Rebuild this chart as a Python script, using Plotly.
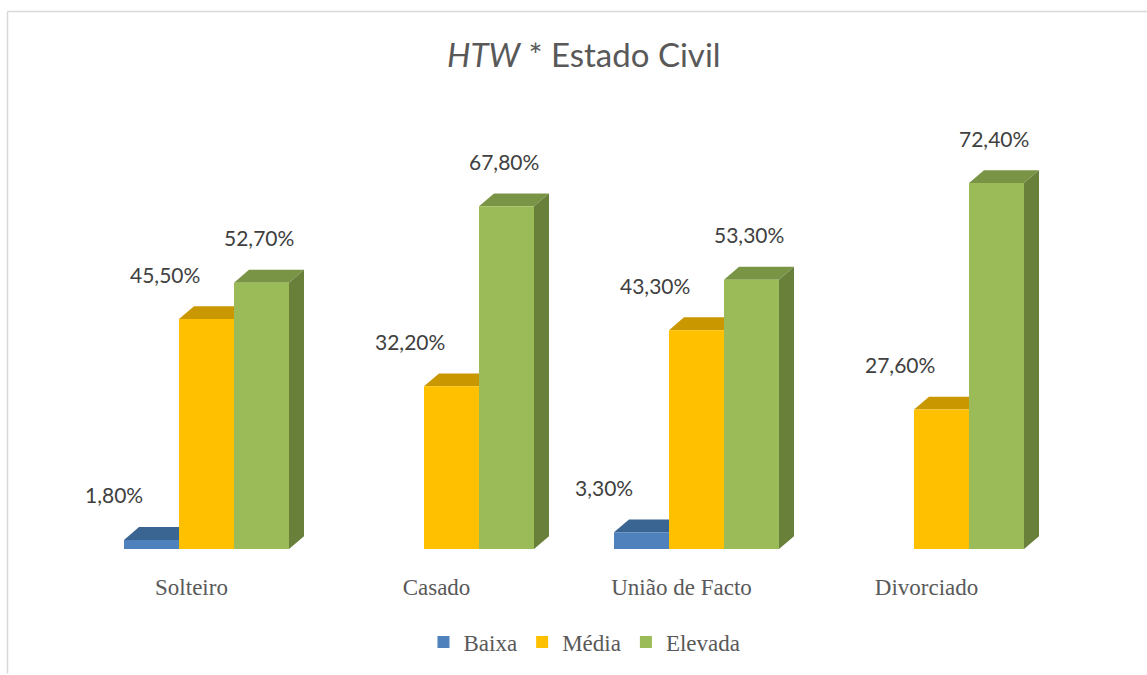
import plotly.graph_objects as go

categories = ["Solteiro", "Casado", "União de Facto", "Divorciado"]
series_names = ["Baixa", "Média", "Elevada"]
baixa = [1.8, None, 3.3, None]
media = [45.5, 32.2, 43.3, 27.6]
elevada = [52.7, 67.8, 53.3, 72.4]

# styling
front_colors = ["#4F81BD", "#FFC000", "#9BBB59"]
top_colors = ["#3A6491", "#C99700", "#7A9446"]
side_colors = ["#33577F", "#B08400", "#68803A"]
label_xshift = [-38, -42, -3]

W, H = 1147, 675
L, R, T, B = 69, 98, 101, 121
px_per_cat = (W - L - R) / 4.0
px_per_pct = 5.11
yr = (H - T - B) / px_per_pct

bar_w = 55 / px_per_cat
group_shift = 15 / px_per_cat
dx = 15 / px_per_cat
dy = 13 / px_per_pct
offsets = [group_shift - 1.5 * bar_w + k * bar_w for k in range(3)]

fig = go.Figure()
shapes = []
annotations = []
all_series = [baixa, media, elevada]
for k, (name, vals) in enumerate(zip(series_names, all_series)):
    xs = list(range(len(categories)))
    fig.add_trace(go.Bar(
        x=xs, y=[v if v is not None else 0 for v in vals], name=name,
        width=bar_w, offset=offsets[k],
        marker=dict(color=front_colors[k], line=dict(width=0)),
        hoverinfo="skip",
    ))
    for i, v in enumerate(vals):
        if v is None:
            continue
        x0 = i + offsets[k]
        x1 = x0 + bar_w
        shapes.append(dict(
            type="path", xref="x", yref="y", layer="below",
            path=f"M {x0},{v} L {x1},{v} L {x1+dx},{v+dy} L {x0+dx},{v+dy} Z",
            fillcolor=top_colors[k], line=dict(width=0)))
        shapes.append(dict(
            type="path", xref="x", yref="y", layer="below",
            path=f"M {x1},0 L {x1+dx},{dy} L {x1+dx},{v+dy} L {x1},{v} Z",
            fillcolor=side_colors[k], line=dict(width=0)))
        annotations.append(dict(
            x=x0 + bar_w / 2, y=v, xref="x", yref="y",
            text=f"{v:.2f}".replace(".", ",") + "%",
            showarrow=False, xanchor="center", yanchor="middle",
            xshift=label_xshift[k], yshift=45,
            font=dict(family="Lato", size=21, color="#404040")))

# chart border (light gray frame)
pw = W - L - R
ph = H - T - B
bx0 = (7.5 - L) / pw
by1 = 1 + (T - 10.5) / ph
shapes.append(dict(type="line", xref="paper", yref="paper", x0=bx0, x1=bx0,
                   y0=by1, y1=-(B + 5) / ph, line=dict(color="#D9D9D9", width=1.5)))
shapes.append(dict(type="line", xref="paper", yref="paper", x0=bx0, x1=(W - L + 5) / pw,
                   y0=by1, y1=by1, line=dict(color="#D9D9D9", width=1.5)))

fig.update_layout(
    width=W, height=H,
    margin=dict(l=L, r=R, t=T, b=B),
    paper_bgcolor="white", plot_bgcolor="white",
    barmode="overlay",
    title=dict(text="<i>HTW</i> * Estado Civil", x=0.509, xanchor="center",
               y=1 - 55 / H, yanchor="middle",
               font=dict(family="Lato", size=33, color="#595959")),
    xaxis=dict(range=[-0.5, 3.5], tickvals=list(range(len(categories))),
               ticktext=categories, showgrid=False, zeroline=False,
               showline=False, ticks="", ticklabelstandoff=22,
               tickfont=dict(family="Liberation Serif", size=23, color="#595959")),
    yaxis=dict(range=[0, yr], visible=False),
    legend=dict(orientation="h", x=0.526, xanchor="center", y=-94 / ph,
                yanchor="middle", font=dict(family="Liberation Serif", size=23, color="#595959"),
                itemwidth=30, traceorder="normal"),
    shapes=shapes,
    annotations=annotations,
)

fig.write_html("out.html", post_script="document.body.style.margin='0px';",
               config={"displayModeBar": False})
